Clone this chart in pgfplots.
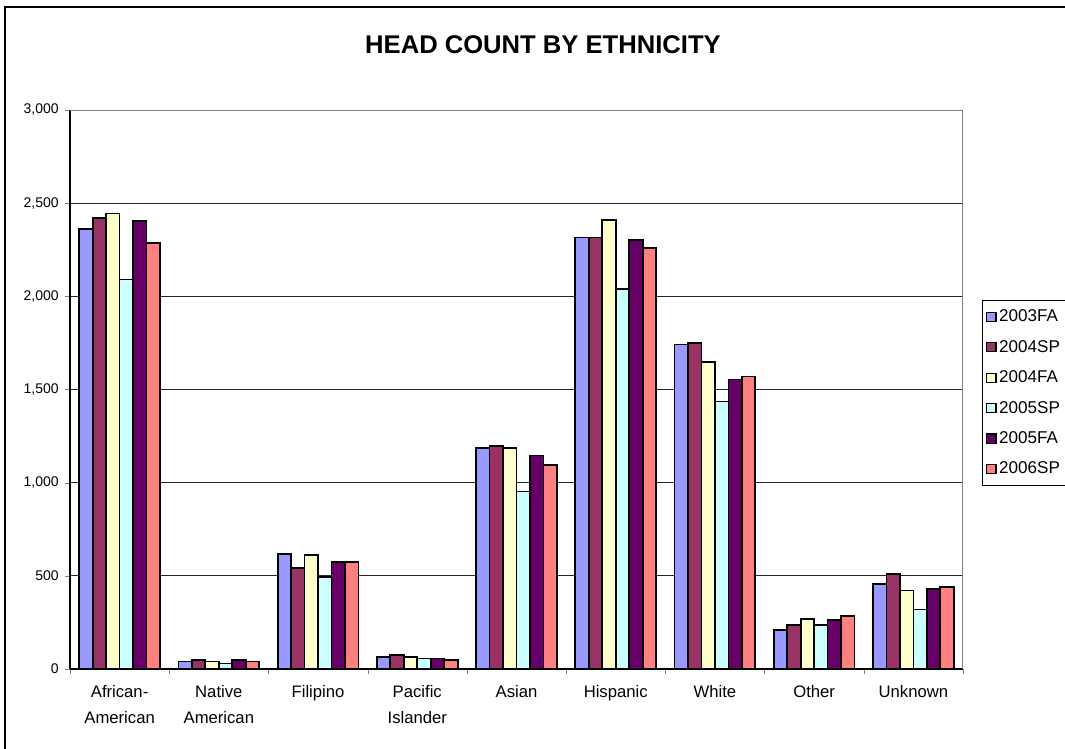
\documentclass[border=0pt]{standalone}
\usepackage{fontspec}
\setmainfont{Liberation Sans}
\usepackage{pgfplots}
\pgfplotsset{compat=1.18}

\definecolor{cA}{HTML}{9999FF}
\definecolor{cB}{HTML}{993366}
\definecolor{cC}{HTML}{FFFFCC}
\definecolor{cD}{HTML}{CCFFFF}
\definecolor{cE}{HTML}{660066}
\definecolor{cF}{HTML}{FF8080}

\begin{document}
\begin{tikzpicture}
\useasboundingbox (0,0) rectangle (798.75pt,-561.75pt);
\begin{scope}[x=0.75pt,y=-0.75pt]
  \draw[line width=0.9pt] (5,800) -- (5,7) -- (1100,7);
  \node[font=\bfseries\fontsize{19.2}{22}\selectfont] at (543,45) {HEAD COUNT BY ETHNICITY};
\end{scope}
\begin{axis}[
    at={(52.5pt,-501.75pt)}, anchor=south west,
    scale only axis, width=669.75pt, height=419.25pt,
    ybar=0pt, bar width=10.1pt,
    xmin=-0.5, xmax=8.5, ymin=0, ymax=3000,
    axis lines=left, axis line style={-, line width=0.8pt},
    tick align=outside, major tick length=4pt,
    xtick={-0.5,0.5,...,8.5}, xticklabels={},
    extra x ticks={0,1,...,8},
    extra x tick labels={African-\\American, Native\\American, Filipino, Pacific\\Islander, Asian, Hispanic, White, Other, Unknown},
    extra x tick style={major tick length=0pt, grid=none,
        tick label style={align=center, font=\fontsize{12.5}{19.5}\selectfont, yshift=-9pt}},
    ytick={0,500,...,3000},
    ymajorgrids, grid style={black!85, line width=0.6pt},
    yticklabel style={font=\fontsize{10.5}{12}\selectfont, xshift=-1pt},
    /pgf/number format/assume math mode=true,
    /pgf/number format/1000 sep={,},
    scaled y ticks=false,
    legend style={at={(1.0213,0.660)}, anchor=north west, draw=black, line width=0.6pt,
        font=\fontsize{12.8}{15}\selectfont, row sep=8.4pt, inner xsep=3pt, inner ysep=5pt},
    legend cell align=left,
    legend image code/.code={\draw[#1, line width=0.8pt] (0pt,-3.4pt) rectangle (6.8pt,3.4pt);},
]
\addplot[fill=cA, draw=black, line width=1.3pt] coordinates {(0,2362) (1,40) (2,619) (3,66) (4,1187) (5,2316) (6,1742) (7,211) (8,458)};
\addlegendentry{2003FA}
\addplot[fill=cB, draw=black, line width=1.3pt] coordinates {(0,2420) (1,50) (2,542) (3,75) (4,1198) (5,2316) (6,1749) (7,236) (8,510)};
\addlegendentry{2004SP}
\addplot[fill=cC, draw=black, line width=1.3pt] coordinates {(0,2445) (1,40) (2,612) (3,66) (4,1187) (5,2410) (6,1647) (7,270) (8,422)};
\addlegendentry{2004FA}
\addplot[fill=cD, draw=black, line width=1.3pt] coordinates {(0,2090) (1,30) (2,494) (3,57) (4,953) (5,2039) (6,1436) (7,236) (8,320)};
\addlegendentry{2005SP}
\addplot[fill=cE, draw=black, line width=1.3pt] coordinates {(0,2403) (1,50) (2,576) (3,57) (4,1146) (5,2301) (6,1554) (7,263) (8,431)};
\addlegendentry{2005FA}
\addplot[fill=cF, draw=black, line width=1.3pt] coordinates {(0,2287) (1,40) (2,576) (3,50) (4,1096) (5,2259) (6,1570) (7,286) (8,440)};
\addlegendentry{2006SP}
\draw[gray, line width=0.8pt] (rel axis cs:0,1) -- (rel axis cs:1,1) -- (rel axis cs:1,0);
\end{axis}
\end{tikzpicture}
\end{document}
